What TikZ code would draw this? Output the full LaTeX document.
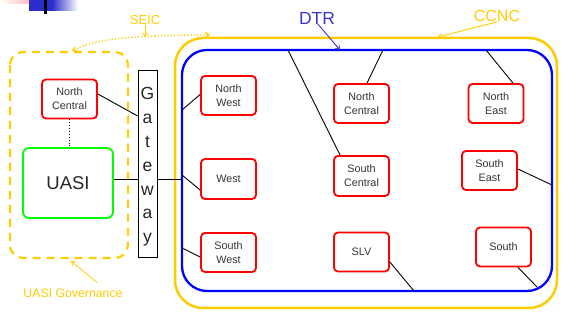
\documentclass[tikz,border=0pt]{standalone}
\usepackage{fontspec}
\setmainfont{Liberation Sans}
\usetikzlibrary{arrows.meta,calc}
\definecolor{gold}{HTML}{FFCC00}
\definecolor{dtrblue}{HTML}{3939D0}
\definecolor{decoblue}{HTML}{2D2DCC}
\begin{document}
\begin{tikzpicture}[x=1pt,y=-1pt,
  region/.style={draw=red,line width=1.8pt,rounded corners=4pt,minimum width=55pt,minimum height=39pt,
    inner sep=0pt,align=center,font=\fontsize{10.8}{14}\selectfont,text=black!80},
  link/.style={draw=black,line width=0.9pt},
  lab/.style={inner sep=0pt},
  tip/.style={-{Straight Barb[length=3.5pt,width=5pt]}}
]
\useasboundingbox (0,0) rectangle (582,320);
% slide decoration
\shade[left color=white,right color=red!35] (0,0) rectangle (40,4);
\fill[decoblue] (29,0) rectangle (52,11);
\shade[left color=decoblue,right color=white] (52,0) rectangle (78,11);
\fill[black] (44,0) rectangle (47,14);

% outer boxes
\draw[gold,line width=2.5pt,rounded corners=28pt] (175,38) rectangle (557,308);
\draw[blue,line width=2.3pt,rounded corners=25pt] (182,50) rectangle (552,291);
\draw[gold,line width=2.2pt,dash pattern=on 8pt off 6pt,rounded corners=13pt] (10,52) rectangle (128,258);

% left side
\node[region] (ncl) at (69.5,99) {North\\Central};
\node[draw=green,line width=1.8pt,rounded corners=6pt,minimum width=90pt,minimum height=70pt,
  font=\fontsize{18.5}{20}\selectfont,text=black!85] (uasi) at (68,183) {UASI};
\node[draw=black,line width=0.8pt,fill=white,minimum width=19pt,minimum height=187pt,inner sep=0pt] (gw) at (147.5,163.5) {};
\node[lab,align=center,font=\fontsize{17.5}{23.8}\selectfont,text=black!85] (gwt) at (147.5,167) {G\\a\\t\\e\\w\\a\\y};

% DTR regions
\node[region] (nw) at (228.5,95.5) {North\\West};
\node[region,minimum height=40pt] (w) at (228.5,179) {West};
\node[region] (sw) at (228.5,252.5) {South\\West};
\node[region] (nc) at (361.5,103.5) {North\\Central};
\node[region,minimum height=40pt] (sc) at (361.5,176) {South\\Central};
\node[region] (slv) at (361.5,252) {SLV};
\node[region] (ne) at (496,103.5) {North\\East};
\node[region] (se) at (489.5,170.5) {South\\East};
\node[region] (s) at (503.5,247) {South};

% border coordinates
\coordinate (bnw) at (182,110);
\coordinate (bw) at (182,175);
\coordinate (bsw) at (182,248);
\coordinate (bsc) at (288,50);
\coordinate (bnc) at (383,50);
\coordinate (bne) at (486,50);
\coordinate (bse) at (552,185);
\coordinate (bslv) at (414,291);
\coordinate (bs) at (537,287);
\coordinate (bgw) at (182,179);

% connectors
\draw[link] (ncl.east) ++(0,-5) -- (gw.west |- 0,116);
\draw[link] ([yshift=4pt]uasi.east) -- (gw.west |- 0,179);
\draw[link] (gw.east |- 0,179) -- (bgw);
\draw[link,dotted,line width=1.2pt] (ncl.south) -- (ncl.south |- uasi.north);
\draw[link] (bnw) -- ([yshift=1pt]nw.west);
\draw[link] (bw) -- ([yshift=-11pt]w.west);
\draw[link] (bsw) -- ([yshift=-4.5pt]sw.west);
\draw[link] (bsc) -- ([xshift=7pt]sc.north west);
\draw[link] (bnc) -- ([xshift=5.5pt]nc.north);
\draw[link] (bne) -- ([xshift=17pt]ne.north);
\draw[link] (bse) -- ([yshift=1.5pt]se.east);
\draw[link] (bslv) -- ([yshift=-10pt]slv.east);
\draw[link] (bs) -- ([xshift=14.5pt]s.south);

% labels
\node[lab,text=gold,font=\fontsize{13}{15}\selectfont] (seic) at (145,20) {SEIC};
\node[lab,text=dtrblue,font=\fontsize{17.5}{19}\selectfont] (dtr) at (317,18) {DTR};
\node[lab,text=gold,font=\fontsize{16}{18}\selectfont] (ccnc) at (497,16) {CCNC};
\node[lab,text=gold,font=\fontsize{12.3}{14}\selectfont] (gov) at (73,293) {UASI Governance};

\coordinate (seicL) at (72,51);
\coordinate (seicR) at (210,35);
\coordinate (seicM) at (145,37);
\draw[gold,dotted,line width=1.3pt,{Straight Barb[length=3.5pt,width=5pt]}-{Straight Barb[length=3.5pt,width=5pt]}]
  (seicL) .. controls (95,39) and (130,35) .. (seicR);
\draw[gold,line width=0.8pt,tip] (seic.south) -- (seicM);
\draw[dtrblue,line width=0.9pt,tip] ([xshift=1pt]dtr.south) -- (340,50);
\draw[gold,line width=0.9pt,tip] (ccnc.south) -- (438,37);
\draw[gold,line width=0.8pt,tip] ([xshift=24pt,yshift=6pt]gov.north) -- (71,261);
\end{tikzpicture}
\end{document}
